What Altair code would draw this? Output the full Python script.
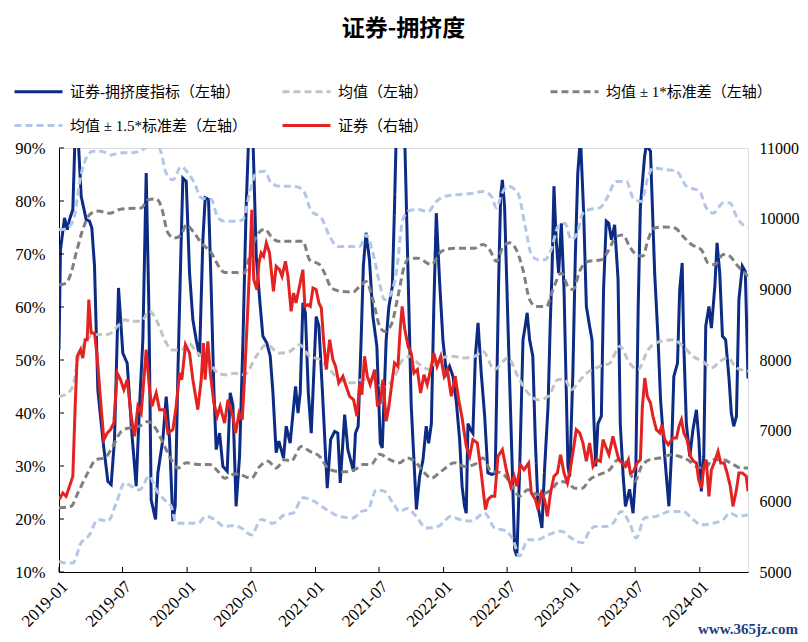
import altair as alt
import pandas as pd
import numpy as np

START = pd.Timestamp("2019-01-01")

# ---- series names (legend order) ----
S_IDX = "证券-拥挤度指标（左轴）"
S_MEAN = "均值（左轴）"
S_1 = "均值 ± 1*标准差（左轴）"
S_15 = "均值 ± 1.5*标准差（左轴）"
S_PX = "证券（右轴）"
ORDER = [S_IDX, S_MEAN, S_1, S_15, S_PX]
COLORS = ["#0b2b85", "#c3c3c3", "#808080", "#b4c7e7", "#e32322"]
DASHES = [[1, 0], [7, 4], [7, 4], [7, 4], [1, 0]]

# ---- data: (weeks since 2019-01-01, value) ----
crowding = [(0, 52), (0.6, 70.8), (2.24, 76.8), (3.33, 74.6), (4.28, 76.5), (5.63, 78.4), (6.58, 93), (7.67, 93),
    (9.03, 80.9), (11.06, 76.5), (12.42, 76.2), (13.37, 74.9), (14.46, 67.7), (15.81, 44.4), (17.85, 35.0),
    (19.89, 27.1), (21.24, 26.5), (22.6, 35), (24.23, 63.6), (25.99, 51.3), (27.76, 49.4), (29.66, 36.2),
    (31.42, 26.2), (32.78, 41.3), (34.14, 53.8), (35.5, 85.3), (36.58, 60.1), (37.53, 23.6), (39.3, 19.9),
    (40.25, 28.7), (42.28, 35), (43.64, 43.1), (45, 35), (46.36, 19.6), (47.31, 22.4), (48.4, 47.5),
    (49.75, 72.7), (50.43, 84.3), (51.79, 83.7), (53.15, 66.4), (54.5, 57.6), (55.86, 53.8), (57.22, 50.7),
    (58.58, 72.7), (59.53, 80.6), (60.88, 80.3), (61.97, 63.3), (63.05, 44.4), (64, 33.1), (65.36, 36.2),
    (66.72, 29.9), (68.48, 29.0), (69.7, 43.8), (70.8, 41.5), (72.1, 22.4), (73.5, 31.8), (74.9, 53.8),
    (76.2, 79), (77.3, 93), (78.9, 93), (80.3, 69.6), (81.7, 61.4), (83.0, 54.5), (84.6, 53.2), (86, 50.7),
    (87.1, 43.8), (88.4, 32.5), (89.5, 34.7), (91.4, 31.5), (92.5, 37.5), (94.1, 34.3), (96.3, 45), (97.3, 40),
    (98.2, 43.8), (99.3, 60.8), (100.3, 58.9), (101.5, 43.8), (102.7, 36.2), (104.7, 58.2), (105.8, 56.4),
    (107.2, 44.4), (109.2, 25.8), (110.6, 35.0), (112.2, 36.5), (113.5, 36.2), (114.5, 26.8), (116.3, 39.7),
    (117.6, 33.1), (119.9, 29.0), (120.7, 36.2), (121.8, 37.5), (123.0, 53.8), (123.9, 67.7), (125.0, 74.0),
    (126.4, 68.9), (127.8, 58.2), (129.4, 52.6), (130.8, 34.3), (131.6, 33.4), (133.2, 53.8), (134.3, 60.1),
    (135.7, 63.9), (136.6, 79.0), (137.3, 93), (140.7, 93), (142.1, 66.4), (143.4, 41.3), (145.5, 21.8),
    (146.8, 28), (148.2, 31.2), (149.5, 37.5), (150.5, 34.3), (151.6, 38), (152.6, 60.1), (153.6, 77.7),
    (154.9, 65.2), (156.3, 53.8), (157.7, 47.5), (159.0, 48.8), (160.4, 46.9), (161.8, 41.9), (163.1, 35),
    (164.1, 26.2), (165.1, 22.4), (165.8, 21.1), (166.5, 38), (167.5, 36.9), (168.5, 36.2), (169.5, 50.7),
    (170.6, 57), (171.9, 47.5), (173.3, 39.4), (174.6, 28.7), (176.3, 28.4), (177.6, 28.7), (179.0, 65.2),
    (179.8, 80.9), (180.5, 84.0), (181.4, 79), (182.8, 56.4), (184.1, 36.2), (185.5, 14.2), (186.4, 13),
    (187.5, 28.7), (188.9, 53.8), (189.8, 56.4), (190.6, 58.9), (191.6, 53.8), (192.9, 50.7), (193.9, 35),
    (195.0, 22.4), (196.6, 18.3), (197.6, 28.7), (199.1, 41.3), (200.0, 57), (200.7, 66.4), (201.5, 82.8),
    (202.4, 72.7), (203.4, 66.4), (204.5, 75.8), (205.6, 63.3), (206.5, 44.4), (207.2, 29.9), (207.9, 28),
    (209.2, 47.5), (210.2, 69.6), (211.2, 85.3), (212.3, 92), (213.6, 77.7), (214.7, 60.1), (216.0, 56.4),
    (217.0, 53.8), (217.7, 39.4), (218.5, 29.9), (219.4, 38), (220.8, 39.4), (221.7, 63.3), (222.8, 76.2),
    (223.8, 75.8), (224.9, 72.7), (226.2, 75.5), (227.6, 65.2), (228.5, 38), (229.6, 28.7), (230.6, 22.4),
    (232.3, 25.6), (233.7, 21.1), (234.8, 28.7), (235.8, 60.1), (236.7, 79), (238.4, 88.4), (239.1, 90.5),
    (240.8, 89.4), (242.5, 66.4), (243.9, 53.8), (244.9, 42.5), (246.6, 31.8), (248.3, 22.4), (249.3, 31.8),
    (250.3, 46.9), (251.8, 49.4), (252.7, 63.3), (253.7, 68.3), (254.3, 53.8), (255.4, 38), (256.8, 31.8),
    (258.1, 36.9), (259.5, 40.6), (260.5, 35), (261.5, 25.2), (262.5, 31.8), (263.3, 56.4), (264.6, 60.1),
    (265.6, 56), (267.0, 63.9), (267.9, 72.1), (269.0, 66.4), (270.1, 54.5), (271.4, 53.8), (272.8, 46.3),
    (273.7, 40), (274.7, 37.5), (275.8, 39.4), (276.8, 61.4), (278.2, 67.7), (279.4, 66.7), (280.5, 46.5)]

mean_line = [(0, 43.1), (3.6, 43.8), (5.6, 45), (7.7, 50.1), (10.4, 53.2), (13.1, 54.5), (15.8, 54.8), (19.9, 54.8),
    (23.9, 56.4), (26.7, 57.6), (29.4, 57.3), (33.5, 57.3), (36.8, 59.2), (40.2, 57), (43.0, 53.8), (46.4, 51.9),
    (49.7, 51.9), (52.5, 53.2), (56.5, 51.3), (60.6, 50.1), (64.7, 47.5), (68.1, 47.2), (71.5, 47.5), (75.5, 47.2),
    (80.3, 50.7), (84.4, 52.9), (89.8, 51.3), (93.9, 51.6), (97.9, 52.9), (102, 50.7), (106.1, 50.1), (110.2, 48.2),
    (114.2, 46.3), (119.7, 45.7), (123.7, 46.3), (127.8, 46.3), (131.9, 45), (136, 46.3), (140, 50.1), (143, 50.7),
    (146.1, 49.4), (150.9, 48.2), (154.3, 50.1), (159.7, 50.7), (165.1, 50.4), (169.2, 50.7), (172.6, 51.6),
    (177.2, 48.2), (182.8, 50.4), (186.8, 46.9), (190.9, 43.8), (195.0, 42.5), (199.1, 43.1), (203.2, 46.3),
    (205.9, 46.3), (208.6, 44.4), (211.3, 45.7), (214, 47.2), (220.1, 48.8), (224.2, 49.4), (228.3, 52.6),
    (232.3, 49.4), (235.7, 48.2), (239.8, 51.9), (244.6, 53.5), (250.0, 53.8), (254.1, 52.6), (258.1, 50.7),
    (262.2, 49.7), (265.6, 48.5), (269.0, 49.7), (272.4, 50.4), (275.8, 48.5), (280.5, 47.9)]

upper_1 = [(0, 64.2), (2.9, 64.5), (4.9, 66.4), (7.0, 70.2), (9.7, 74.6), (12.4, 77.4), (15.8, 78.1), (20.6, 77.7),
    (24.6, 78.4), (28.7, 78.6), (33.5, 78.7), (36.2, 80.2), (39.6, 80.4), (41.6, 79), (44.3, 74.0), (47.0, 73),
    (49.7, 73.6), (51.8, 75.5), (54.5, 74.3), (57.9, 72.1), (62.0, 70.2), (65.4, 67.4), (67.4, 66.5), (71.5, 66.5),
    (75.5, 66.4), (77.6, 69.6), (80.3, 73.3), (83.7, 74.7), (86.4, 73.3), (89.1, 72.4), (93.9, 72.4), (99.3, 72.4),
    (102, 68.9), (106.1, 68), (108.1, 66.4), (110.9, 63.6), (114.2, 63.0), (119.7, 62.8), (122.4, 63.9),
    (125.0, 64.8), (127.8, 61.4), (130.5, 56.4), (132.5, 55.4), (135.3, 56.7), (138.0, 62), (140.7, 67.9),
    (142.7, 69.2), (146.1, 69.2), (151.6, 68), (155.7, 70.5), (161.1, 71.1), (169.2, 71.1), (172.6, 71.8),
    (175.3, 70.8), (178.1, 68.6), (180.8, 71.4), (183.5, 72.1), (186.2, 70.8), (188.9, 67.0), (191.6, 61.4),
    (194.3, 60.1), (198.4, 60.1), (201.1, 63.3), (204.5, 66.4), (207.2, 63.9), (209.3, 63.3), (212, 66.8),
    (215.4, 68.6), (220.8, 68.9), (223.5, 70.5), (226.9, 73.3), (229.6, 73.6), (232.3, 71.4), (235.0, 69.9),
    (237.7, 69.6), (239.8, 72.7), (242.5, 74.9), (246.6, 75.1), (250.7, 74.9), (254.1, 73.3), (257.5, 71.8),
    (261.5, 70.8), (264.3, 68.3), (267, 68), (270.4, 69.9), (273.1, 69.6), (275.8, 68), (279.2, 66.4), (280.5, 65.8)]

lower_1 = [(0, 22.1), (4.9, 22.4), (7.67, 24.9), (11.7, 28.7), (15.1, 31.2), (18.5, 31.5), (21.9, 33.7), (25.3, 36.5),
    (28.7, 37.2), (32.8, 37.5), (36.2, 38.4), (39.6, 36.9), (43, 33.7), (45.7, 31.2), (48.4, 29.6), (51.8, 30.6),
    (56.5, 30.3), (61.3, 30.3), (64.7, 29), (67.4, 27.7), (71.5, 28.5), (73.5, 28.4), (78.3, 27.7), (81.7, 29.9),
    (85.1, 30.9), (88.4, 29.6), (91.8, 31.2), (94.5, 30.9), (98.6, 33.7), (102, 32.8), (106.1, 31.8), (109.5, 29.6),
    (112.9, 29.0), (117, 28.9), (120.4, 29.3), (123.8, 30.3), (127.1, 30.3), (130.5, 32.2), (134.6, 31.2),
    (138.7, 30.6), (141.7, 31.5), (144.8, 30.9), (148.8, 28.7), (151.6, 27.7), (155.6, 29), (161.1, 30.6),
    (165.1, 29.9), (169.2, 30.3), (172.6, 31.5), (176.0, 29.0), (180.1, 28.7), (184.2, 26.5), (187.5, 24.3),
    (190.9, 25.5), (195, 24.6), (200.4, 25.5), (203.8, 27.1), (207.2, 26.8), (210, 25.8), (213, 25.8), (216, 27.4),
    (220.1, 28.4), (224.2, 29.3), (227.6, 31.2), (231, 30.6), (234.4, 27.1), (237.1, 29.9), (240.5, 31.2),
    (244.6, 31.5), (249.3, 32.1), (252.7, 31.8), (256.8, 30.9), (259.5, 29.9), (262.9, 29.6), (266.3, 31.2),
    (270.4, 31.2), (274.4, 30.3), (277.8, 29.6), (280.5, 29.6)]

upper_15 = [(0, 74.6), (2.2, 74.6), (4.3, 75.2), (6.3, 77.1), (8.3, 83.4), (11.1, 88.1), (13.8, 89.4), (17.2, 89.4),
    (21.2, 88.7), (25.3, 89.1), (29.4, 89.1), (32.8, 89.4), (36.2, 90.3), (39.6, 91), (41.6, 89.1), (43.6, 85.3),
    (46.4, 84), (49.7, 86.5), (52.5, 85.3), (55.1, 83.4), (57.9, 80.6), (62.0, 80.3), (64.7, 76.8), (67.4, 76.2),
    (71.5, 76.2), (74.9, 76.5), (77.6, 81.5), (80.3, 85.3), (83.7, 85.6), (86.4, 83.4), (89.8, 82.8), (95.2, 82.8),
    (99.3, 82.1), (102.7, 78.1), (106.8, 76.8), (110.2, 73.3), (113.6, 71.4), (119.7, 71.4), (122.4, 71.4),
    (125, 73.6), (127.8, 70.2), (130.5, 64.5), (132.5, 61.4), (134.6, 62), (137.3, 66.4), (140, 76.5),
    (142.7, 78.2), (146, 78.4), (150.2, 78), (153.6, 79.9), (157.0, 80.9), (162.4, 81.2), (167.9, 81.4),
    (172.6, 81.8), (176.0, 80.9), (178.1, 78.7), (180.1, 81.2), (182.8, 82.8), (186.8, 81.5), (189.8, 75.2),
    (192.3, 69.9), (195.0, 68.9), (197.7, 68.9), (200.4, 70.8), (203.2, 75.2), (205.9, 75.8), (208.6, 72.7),
    (211.3, 74.3), (213, 77.5), (216, 78.4), (220.1, 78.7), (222.8, 80.3), (226.9, 83.7), (231.0, 83.7),
    (233.7, 80.6), (237.1, 79.9), (239.8, 84.6), (241.8, 86.2), (247.3, 85.9), (251.4, 85.6), (255.4, 82.8),
    (260.8, 81.8), (263.5, 78.7), (266.3, 77.7), (270.4, 79.6), (273.1, 79.6), (275.8, 77.1), (278.5, 75.5),
    (280.5, 75.2)]

lower_15 = [(0, 12), (2.2, 11.7), (5.6, 11.7), (9, 15.5), (12.4, 17.0), (15.8, 19.9), (19.9, 19.6), (23.3, 23.0),
    (26.7, 26.8), (29.4, 26.2), (32.8, 25.5), (36.8, 28.1), (39.6, 25.5), (43.0, 23.6), (45.7, 22.4), (47.7, 19.2),
    (51.8, 19.2), (56.5, 19.2), (59.9, 20.5), (63.3, 19.9), (67.4, 18.6), (71.5, 18.8), (74.2, 18.3), (78.3, 17),
    (82.3, 19.9), (87.1, 19.2), (91.8, 20.8), (95.2, 21.1), (99.3, 24), (104.0, 23.3), (108.8, 21.8), (114.2, 20.5),
    (119.7, 20.2), (123, 21.4), (125.8, 21.8), (129.2, 25.5), (132.5, 25.2), (136, 23.0), (138.7, 21.4), (141.7, 22),
    (145.4, 20.5), (149.5, 18.3), (154.3, 18.6), (159.7, 20.5), (163.1, 19.9), (167.8, 19.6), (173.3, 21.1),
    (177.4, 18.3), (182.1, 17.7), (184.8, 16.1), (187.5, 13), (190.9, 16.1), (195, 16.1), (199.1, 17),
    (204.5, 17.7), (208.6, 16.4), (213, 15.5), (216.0, 17.7), (218.1, 18.6), (222.8, 18.6), (225.5, 19.2),
    (228.9, 21.4), (232.3, 19.2), (235, 16.4), (238.4, 20.2), (243.2, 20.5), (248.6, 21.4), (254.1, 21.4),
    (258.1, 19.9), (261.5, 18.9), (266.3, 19.2), (270.4, 19.9), (273.1, 21.1), (276.5, 20.5), (280.5, 20.8)]

price = [(0.07, 6024), (1.56, 6118), (2.9, 6071), (4.28, 6212), (5.63, 6354), (6.58, 7344), (7.4, 8052), (8.76, 8146),
    (9.71, 8028), (10.65, 8288), (11.47, 8288), (12.15, 8854), (13.1, 8382), (14.46, 8382), (15.54, 8052),
    (16.9, 7439), (18.26, 6873), (19.62, 6967), (20.97, 7014), (22.33, 7108), (23.69, 7816), (25.04, 7722),
    (26.4, 7580), (27.76, 7722), (29.39, 7203), (30.75, 6920), (32.1, 7344), (33.46, 7250), (35.5, 8146),
    (36.85, 7580), (37.8, 7344), (39.57, 7533), (40.93, 7297), (42.97, 7297), (44.32, 6967), (46.36, 7014),
    (47.7, 7344), (49.07, 7816), (50.0, 7722), (51.5, 8217), (53.15, 8099), (54.5, 7722), (56.5, 7297),
    (57.9, 7722), (58.8, 8241), (59.5, 7722), (60.6, 8264), (61.6, 7816), (63.05, 7391), (64.4, 7203),
    (65.6, 7344), (67.4, 7108), (68.8, 7439), (70.8, 7203), (71.9, 6967), (73.3, 7250), (74.6, 7156), (75.5, 7722),
    (76.9, 8759), (77.9, 9561), (78.5, 10127), (79.3, 9137), (80.6, 8995), (81.4, 9373), (82.3, 9514), (83.3, 9467),
    (84.4, 9656), (85.7, 9514), (87.3, 8972), (88.4, 9326), (89.8, 9278), (90.8, 9184), (92.2, 9396), (93.2, 9184),
    (94.5, 8689), (95.5, 8948), (96.5, 8807), (97.9, 9042), (99.3, 9278), (100.1, 8759), (101.3, 8783),
    (102.3, 8759), (103.4, 9019), (104.7, 8995), (105.8, 8807), (106.8, 8736), (107.7, 8288), (108.8, 7863),
    (110.2, 8288), (111.5, 8005), (112.6, 7910), (113.9, 7675), (115.6, 7769), (116.9, 7627), (118.3, 7486),
    (119.9, 7439), (121.3, 7203), (122.4, 7675), (123.3, 7509), (124.4, 8052), (125.5, 7769), (126.7, 7651),
    (128.5, 7863), (129.6, 7368), (130.8, 7391), (131.9, 7722), (133.2, 7132), (134.3, 7344), (135.7, 7722),
    (136.6, 7958), (138.0, 7910), (138.9, 8429), (139.7, 8759), (140.7, 8450), (142.1, 8193), (143.4, 8099),
    (144.5, 7816), (145.9, 7863), (147.2, 7533), (148.6, 7792), (149.9, 7651), (151.3, 7863), (152.6, 8099),
    (153.9, 7910), (155.4, 8052), (156.8, 7769), (158.1, 7863), (159.7, 7486), (161.3, 7769), (162.7, 7439),
    (164.0, 7203), (165.8, 6778), (167.2, 6637), (168.5, 6873), (170.3, 6826), (171.9, 6401), (173.6, 5882),
    (174.6, 6024), (176.0, 6071), (177.4, 6071), (178.7, 6637), (180.5, 6731), (182.1, 6448), (183.9, 6212),
    (185.3, 6354), (186.4, 6212), (187.8, 6519), (189.3, 6448), (191.2, 6542), (192.3, 6118), (194.0, 6024),
    (195.0, 5882), (196.4, 6118), (197.7, 6024), (198.8, 5788), (200.1, 6118), (201.5, 6354), (202.9, 6401),
    (204.2, 6660), (205.6, 6401), (207.0, 6259), (208.1, 6448), (209.2, 6684), (210.6, 7014), (212.0, 6967),
    (213.3, 6826), (214.7, 6566), (216.0, 6826), (217.4, 6495), (219.0, 6589), (220.4, 6566), (221.5, 6873),
    (222.5, 6779), (223.9, 6660), (225.5, 6920), (226.5, 6779), (227.9, 6589), (229.3, 6542), (230.6, 6495),
    (231.8, 6589), (232.6, 6401), (233.9, 6425), (235.3, 6542), (236.7, 6589), (237.5, 7344), (238.5, 7745),
    (239.5, 7486), (240.8, 7391), (241.8, 7203), (243.2, 7014), (244.6, 6967), (245.5, 7085), (246.6, 6873),
    (248.0, 6802), (250.0, 6896), (251.4, 6896), (252.4, 7061), (253.4, 7156), (254.4, 6967), (255.7, 6873),
    (257.0, 6637), (258.4, 6566), (259.5, 6542), (260.4, 6306), (261.5, 6189), (262.5, 6472), (263.5, 6589),
    (264.6, 6071), (265.6, 6448), (267.0, 6566), (268.3, 6708), (269.4, 6542), (270.8, 6542), (272.0, 6401),
    (273.3, 6212), (274.4, 5929), (275.8, 6165), (276.8, 6401), (278.2, 6401), (279.8, 6354), (280.5, 6141)]

left_ticks = [10, 20, 30, 40, 50, 60, 70, 80, 90]
right_ticks = [5000, 6000, 7000, 8000, 9000, 10000, 11000]
x_tick_months = [(2019, 1), (2019, 7), (2020, 1), (2020, 7), (2021, 1), (2021, 7), (2022, 1),
                 (2022, 7), (2023, 1), (2023, 7), (2024, 1)]

TITLE = "证券-拥挤度"
WATERMARK = "www.365jz.com"


def frame(points, series, part="a"):
    w = np.array([p[0] for p in points], dtype=float)
    return pd.DataFrame({
        "date": START + pd.to_timedelta(w * 7, unit="D"),
        "value": [p[1] for p in points],
        "series": series,
        "part": part,
    })


df_idx = frame(crowding, S_IDX)
df_band = pd.concat([
    frame(mean_line, S_MEAN, "m"),
    frame(upper_1, S_1, "u1"), frame(lower_1, S_1, "l1"),
    frame(upper_15, S_15, "u15"), frame(lower_15, S_15, "l15"),
], ignore_index=True)
df_px = frame(price, S_PX)

x_min = df_band["date"].min()
x_max = df_px["date"].max()

SERIF = "Liberation Serif"
LEGEND_FONT = "Liberation Serif, Noto Sans CJK SC"
W, H = 689, 424

x_scale = alt.Scale(domain=[x_min.isoformat(), x_max.isoformat()], nice=False)
x_axis = alt.Axis(values=[alt.DateTime(year=y, month=m, date=1) for y, m in x_tick_months],
                  format="%Y-%m", labelAngle=-45, labelFont=SERIF, labelFontSize=17,
                  labelColor="black", ticks=False, tickSize=0, labelPadding=6,
                  domainColor="black", domainWidth=1, grid=False, title=None)
X = alt.X("date:T", scale=x_scale, axis=x_axis)

legend = alt.Legend(orient="none", legendX=-46, legendY=-82, columns=3, direction="horizontal",
                    gridAlign="all", columnPadding=29, rowPadding=0, symbolType="stroke",
                    symbolSize=2304, symbolStrokeWidth=3, labelFont=LEGEND_FONT, labelFontSize=15,
                    labelColor="black", labelLimit=400, labelOffset=6, padding=0, title=None)
COLOR = alt.Color("series:N", scale=alt.Scale(domain=ORDER, range=COLORS), legend=legend,
                  sort=ORDER)
DASH = alt.StrokeDash("series:N", scale=alt.Scale(domain=ORDER, range=DASHES), legend=legend,
                      sort=ORDER)

y_left_scale = alt.Scale(domain=[10, 90], nice=False, zero=False)
y_left_axis = alt.Axis(orient="left", values=left_ticks, labelExpr="datum.value + '%'",
                       labelFont=SERIF, labelFontSize=16.5, labelColor="black", ticks=False,
                       tickSize=0, labelPadding=14, domainColor="black", domainWidth=1,
                       grid=False, title=None)
Y_LEFT = alt.Y("value:Q", scale=y_left_scale, axis=y_left_axis)

idx_line = alt.Chart(df_idx).mark_line(strokeWidth=3, clip=True).encode(
    x=X, y=Y_LEFT, color=COLOR, strokeDash=DASH)

band_lines = alt.Chart(df_band).mark_line(strokeWidth=3, clip=True, interpolate="monotone").encode(
    x=X, y=Y_LEFT, color=COLOR, strokeDash=DASH, detail="part:N")

ytick_df = pd.DataFrame({"value": left_ticks})
ytick_rules = alt.Chart(ytick_df).mark_rule(color="black", strokeWidth=1).encode(
    y=alt.Y("value:Q", scale=y_left_scale, axis=y_left_axis),
    x=alt.value(0), x2=alt.value(5))

xtick_df = pd.DataFrame({"date": [pd.Timestamp(year=y, month=m, day=1) for y, m in x_tick_months]})
xtick_rules = alt.Chart(xtick_df).mark_rule(color="black", strokeWidth=1).encode(
    x=X, y=alt.value(H), y2=alt.value(H - 5))

left_group = alt.layer(idx_line, band_lines, ytick_rules, xtick_rules)

px_line = alt.Chart(df_px).mark_line(strokeWidth=3, clip=True).encode(
    x=X,
    y=alt.Y("value:Q", scale=alt.Scale(domain=[5000, 11000], nice=False, zero=False),
            axis=alt.Axis(orient="right", values=right_ticks, labelFont=SERIF, labelFontSize=16,
                          labelColor="black", ticks=False, tickSize=0, labelPadding=11,
                          domain=False, grid=False, title=None, format="d")),
    color=COLOR, strokeDash=DASH)

wm = alt.Chart(pd.DataFrame({"t": [WATERMARK]})).mark_text(
    font=SERIF, fontSize=15, fontWeight="bold", color="#1e3f7f", align="right", baseline="middle"
).encode(text="t:N", x=alt.value(W + 50), y=alt.value(H + 57))

chart = alt.layer(left_group, px_line, wm).resolve_scale(
    y="independent", color="shared", strokeDash="shared"
).properties(
    width=W, height=H,
    title=alt.TitleParams(TITLE, font="Noto Sans CJK SC", fontSize=23, fontWeight="bold",
                          color="black", anchor="middle", offset=25),
    autosize=alt.AutoSizeParams(type="none"),
    padding={"left": 51, "top": 140, "right": 52, "bottom": 68},
).configure_view(stroke=None).configure(background="white")

chart.save("out.html", embed_options={"renderer": "svg", "actions": False})
